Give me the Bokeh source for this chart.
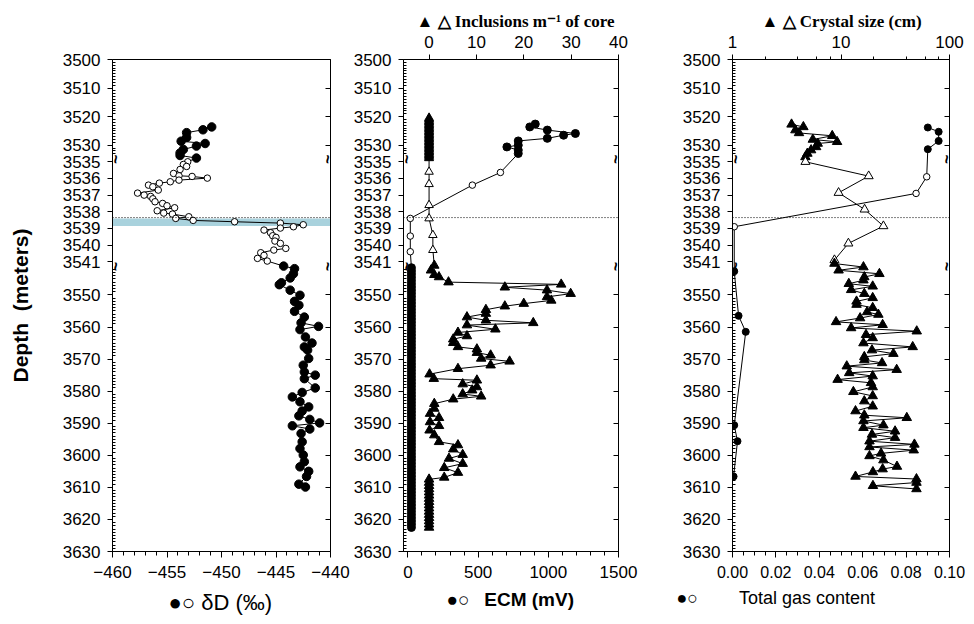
import math
from bokeh.plotting import figure
from bokeh.layouts import row
from bokeh.models import (Range1d, LinearAxis, LogAxis, FixedTicker, LogTicker, LinearScale,
                          Span, BoxAnnotation, PrintfTickFormatter, Title)
from bokeh.core.properties import value
from bokeh.embed import file_html
from bokeh.resources import INLINE

FONT = "Liberation Sans"

# ---------------- depth axis (broken: upper / expanded 3535-3541 m / lower) ----------------
DEPTH_TICKS_UP = [3500, 3510, 3520, 3530]
DEPTH_TICKS_MID = [3535, 3536, 3537, 3538, 3539, 3540, 3541]
DEPTH_TICKS_LOW = [3550, 3560, 3570, 3580, 3590, 3600, 3610, 3620, 3630]

# ---------------- panel 1 : deltaD (permil) ----------------
DD_UP_DEPTH = [3523.6, 3524.6, 3525.6, 3527.3, 3528.6, 3529.4, 3530.3, 3531.5, 3532.7, 3533.6, 3534.5]
DD_UP = [-450.9, -451.7, -453.2, -453.2, -453.7, -451.5, -452.3, -453.5, -453.8, -453.8, -452.3]

DD_MID_DEPTH = [3535.0, 3535.16, 3535.28, 3535.46, 3535.70, 3535.84, 3535.88, 3535.98, 3536.10, 3536.20,
                3536.28, 3536.40, 3536.50, 3536.70, 3536.88, 3537.00, 3537.08, 3537.22, 3537.40, 3537.50,
                3537.64, 3537.76, 3537.94, 3538.08, 3538.14, 3538.30, 3538.40, 3538.52, 3538.60, 3538.68,
                3538.78, 3538.90, 3538.98, 3539.10, 3539.26, 3539.44, 3539.54, 3539.76, 3539.90, 3540.20,
                3540.30, 3540.46, 3540.62, 3540.80, 3540.96]
DD_MID = [-453.1, -453.5, -453.2, -453.8, -454.4, -453.9, -452.7, -451.3, -453.9, -454.7,
          -455.7, -456.7, -456.3, -455.8, -457.7, -457.1, -456.5, -456.3, -456.1, -455.4,
          -455.0, -454.3, -455.9, -455.3, -454.5, -453.0, -454.2, -452.6, -448.8, -444.6,
          -442.5, -443.4, -444.6, -446.1, -445.5, -445.3, -445.0, -445.1, -444.6, -444.1,
          -445.2, -446.4, -446.1, -446.7, -445.8]

DD_LOW_DEPTH = [3541.0, 3541.8, 3543.4, 3544.7, 3546.2, 3546.8, 3548.5, 3550.1, 3552.0, 3553.2,
                3555.1, 3556.9, 3558.7, 3559.8, 3560.8, 3563.1, 3565.0, 3566.2, 3567.2, 3569.8,
                3571.9, 3574.0, 3575.0, 3576.1, 3579.0, 3580.4, 3581.8, 3583.3, 3584.9, 3586.2,
                3587.7, 3588.8, 3589.9, 3590.8, 3591.8, 3593.2, 3595.8, 3597.9, 3599.9, 3602.0,
                3603.6, 3605.0, 3606.6, 3609.0, 3609.9]
DD_LOW = [-444.3, -443.3, -443.4, -443.7, -444.5, -444.7, -443.7, -442.8, -443.3, -442.9,
          -443.3, -442.4, -442.7, -441.1, -442.8, -442.3, -441.7, -442.4, -442.1, -442.0,
          -442.5, -442.4, -441.4, -442.4, -441.4, -442.6, -443.5, -442.8, -442.0, -442.6,
          -442.9, -441.9, -441.0, -443.5, -441.9, -442.7, -442.6, -442.8, -442.5, -442.4,
          -442.8, -442.0, -442.2, -442.9, -442.3]

# ---------------- panel 2 : ECM (mV) circles, inclusions per m of core triangles ----------------
ECM_UP_DEPTH = [3522.6, 3523.6, 3524.7, 3525.9, 3526.5, 3527.6, 3528.5, 3530.0, 3530.6, 3531.7, 3532.9]
ECM_UP = [907, 868, 993, 1193, 1109, 993, 786, 786, 705, 786, 786]
ECM_MID_DEPTH = [3535.64, 3536.4, 3538.4, 3539.46, 3540.4]
ECM_MID = [659, 459, 17, 17, 17]
ECM_LOW_DEPTH = [3541.5, 3542.5, 3543.5, 3544.5, 3545.5, 3546.5, 3547.5, 3548.5, 3549.5, 3550.5,
                 3551.5, 3552.5, 3553.5, 3554.5, 3555.5, 3556.5, 3557.5, 3558.5, 3559.5, 3560.5,
                 3561.5, 3562.5, 3563.5, 3564.5, 3565.5, 3566.5, 3567.5, 3568.5, 3569.5, 3570.5,
                 3571.5, 3572.5, 3573.5, 3574.5, 3575.5, 3576.5, 3577.5, 3578.5, 3579.5, 3580.5,
                 3581.5, 3582.5, 3583.5, 3584.5, 3585.5, 3586.5, 3587.5, 3588.5, 3589.5, 3590.5,
                 3591.5, 3592.5, 3593.5, 3594.5, 3595.5, 3596.5, 3597.5, 3598.5, 3599.5, 3600.5,
                 3601.5, 3602.5, 3603.5, 3604.5, 3605.5, 3606.5, 3607.5, 3608.5, 3609.5, 3610.5,
                 3611.5, 3612.5, 3613.5, 3614.5, 3615.5, 3616.5, 3617.5, 3618.5, 3619.5, 3620.5,
                 3621.5, 3622.5]
ECM_LOW = [25, 25, 25, 25, 25, 25, 25, 25, 25, 25,
           25, 25, 25, 25, 25, 25, 25, 25, 25, 25,
           25, 25, 25, 25, 25, 25, 25, 25, 25, 25,
           25, 25, 25, 25, 25, 25, 25, 25, 25, 25,
           25, 25, 25, 25, 25, 25, 25, 25, 25, 25,
           25, 25, 25, 25, 25, 25, 25, 25, 25, 25,
           25, 25, 25, 25, 25, 25, 25, 25, 25, 25,
           25, 25, 25, 25, 25, 25, 25, 25, 25, 25,
           25, 25]

INC_UP_DEPTH = [3520.5, 3521.0, 3521.5, 3522.0, 3522.5, 3523.0, 3523.5, 3524.0, 3524.5, 3525.0,
                3525.5, 3526.0, 3526.5, 3527.0, 3527.5, 3528.0, 3528.5, 3529.0, 3529.5, 3530.0,
                3530.5, 3531.0, 3531.5, 3532.0, 3532.5, 3533.0, 3533.5, 3534.0, 3534.5]
INC_UP = [0, 0, 0, 0, 0, 0, 0, 0, 0, 0, 0, 0, 0, 0, 0, 0, 0, 0, 0, 0, 0, 0, 0, 0, 0, 0, 0, 0, 0]
INC_MID_DEPTH = [3535.6, 3536.34, 3537.6, 3538.4, 3539.4, 3540.3]
INC_MID = [0, 0, 0, 0, 0.8, 0.8]
INC_LOW_DEPTH = [3540.8, 3542.3, 3543.7, 3544.4, 3546.0, 3546.7, 3547.6, 3548.5, 3549.6, 3550.6,
                 3551.7, 3552.7, 3553.5, 3554.6, 3555.8, 3556.9, 3557.9, 3558.7, 3559.4, 3560.7,
                 3561.7, 3562.8, 3563.8, 3564.9, 3566.2, 3566.9, 3568.0, 3568.8, 3569.8, 3570.7,
                 3571.9, 3573.0, 3574.7, 3576.1, 3576.6, 3577.8, 3578.7, 3579.7, 3580.9, 3581.6,
                 3582.5, 3583.9, 3585.4, 3587.0, 3588.3, 3589.6, 3590.8, 3592.2, 3593.7, 3595.8,
                 3596.8, 3598.1, 3599.8, 3601.0, 3602.6, 3603.9, 3605.4, 3606.9,
                 3607.5, 3608.5, 3609.5, 3610.5, 3611.5, 3612.5, 3613.5, 3614.5, 3615.5, 3616.5,
                 3617.5, 3618.5, 3619.5, 3620.5, 3621.5, 3622.5]
INC_LOW = [1.1, 0.4, 1.1, 2.1, 4.1, 27.9, 16.0, 24.9, 29.9, 24.9,
           25.8, 20.0, 16.0, 12.0, 12.0, 8.0, 12.0, 22.0, 8.0, 14.0,
           6.1, 8.0, 5.1, 5.1, 6.1, 10.1, 10.1, 13.0, 11.0, 17.0,
           13.0, 6.1, 0.1, 1.0, 10.1, 7.1, 10.1, 9.1, 7.1, 11.0,
           5.1, 1.1, 1.1, 0.2, 2.1, 0.2, 2.1, 0.1, 1.1, 2.1,
           6.1, 5.1, 7.1, 4.2, 7.1, 3.2, 6.1, 3.2,
           0, 0, 0, 0, 0, 0, 0, 0, 0, 0,
           0, 0, 0, 0, 0, 0]

# ---------------- panel 3 : crystal size (cm) triangles, total gas content circles ----------------
CS_UP_DEPTH = [3522.7, 3523.6, 3524.7, 3525.7, 3526.7, 3528.0, 3528.8, 3529.4, 3530.6, 3531.7, 3532.9, 3534.1]
CS_UP = [3.5, 4.5, 3.8, 4.1, 8.3, 5.5, 9.2, 6.1, 5.9, 5.3, 4.9, 4.7]
CS_MID_DEPTH = [3535.0, 3535.86, 3536.86, 3537.86, 3538.86, 3539.9, 3540.9]
CS_MID = [4.7, 18.0, 9.5, 16.5, 24.6, 11.7, 8.7]
CS_LOW_DEPTH = [3540.2, 3541.3, 3542.3, 3543.4, 3544.4, 3545.4, 3546.5, 3547.3, 3548.4, 3549.6,
                3550.9, 3552.0, 3553.0, 3554.0, 3555.3, 3556.1, 3557.2, 3558.4, 3559.3, 3560.3,
                3561.3, 3562.4, 3563.4, 3565.0, 3566.2, 3567.2, 3568.3, 3569.3, 3570.3, 3571.2,
                3572.2, 3573.3, 3574.3, 3575.3, 3576.4, 3577.4, 3578.7, 3580.2, 3581.5, 3583.1,
                3584.7, 3586.2, 3587.5, 3588.3, 3589.3, 3590.6, 3591.4, 3592.5, 3593.5, 3594.5,
                3595.6, 3596.6, 3597.4, 3598.4, 3599.4, 3600.2, 3601.5, 3603.5, 3604.3, 3605.2,
                3606.6, 3607.4, 3608.5, 3609.5, 3610.5]
CS_LOW = [8.7, 16.1, 9.5, 22.6, 16.4, 16.1, 11.8, 19.6, 12.4, 16.4,
          19.6, 13.9, 13.9, 19.6, 17.4, 22.1, 15.0, 9.0, 24.2, 12.4,
          49.9, 17.0, 19.6, 16.1, 45.8, 19.3, 30.4, 16.4, 16.4, 23.9,
          11.3, 32.6, 11.9, 19.6, 9.3, 18.9, 19.6, 13.0, 19.6, 16.4,
          19.6, 13.6, 16.4, 40.4, 16.1, 24.6, 16.1, 31.5, 19.3, 31.5,
          18.3, 47.5, 18.3, 46.8, 23.4, 18.3, 24.6, 32.8, 24.2, 19.7,
          13.6, 49.6, 49.6, 19.7, 49.6]

GAS_UP_DEPTH = [3523.8, 3525.3, 3528.5, 3531.4]
GAS_UP = [0.090, 0.095, 0.095, 0.090]
GAS_MID_DEPTH = [3535.9, 3536.9, 3538.9]
GAS_MID = [0.0895, 0.0846, 0.0008]
GAS_LOW_DEPTH = [3542.6, 3556.5, 3561.5, 3590.6, 3595.6, 3606.6]
GAS_LOW = [0.0008, 0.0028, 0.0061, 0.0008, 0.0023, 0.0005]

# ---------------- tick values ----------------
DD_TICKS = [-460, -455, -450, -445, -440]
DD_MINOR = [-459, -458, -457, -456, -454, -453, -452, -451, -449, -448, -447, -446,
            -444, -443, -442, -441]
ECM_TICKS = [0, 500, 1000, 1500]
ECM_MINOR = [100, 200, 300, 400, 600, 700, 800, 900, 1100, 1200, 1300, 1400]
INC_TICKS = [0, 10, 20, 30, 40]
GAS_TICKS = [0.00, 0.02, 0.04, 0.06, 0.08, 0.10]
GAS_MINOR = [0.005, 0.01, 0.015, 0.025, 0.03, 0.035, 0.045, 0.05, 0.055, 0.065, 0.07, 0.075,
             0.085, 0.09, 0.095]


# ---------------- broken depth scale ----------------
def y_up(d):
    return (d - 3500.0) * 2.86


def y_mid(d):
    return 102.4 + (d - 3535.0) * 16.67


def y_low(d):
    return 235.7 + (d - 3550.0) * 3.21


Y_BOTTOM = y_low(3630)
BRK1 = (y_up(3534.0) + y_mid(3535.0)) / 2
BRK2 = (y_mid(3541.2) + y_low(3541.6)) / 2
MARK_LINE = y_mid(3538.35)
FIG_H = 624


def ys(up, mid, low):
    return [y_up(d) for d in up], [y_mid(d) for d in mid], [y_low(d) for d in low]


def base_fig(width, left, right, x_range, x_axis_type="linear"):
    p = figure(width=width, height=FIG_H, x_range=x_range, y_range=Range1d(Y_BOTTOM, 0),
               x_axis_type=x_axis_type, x_axis_location=None, y_axis_location=None,
               title_location=None, output_backend="svg", toolbar_location=None,
               min_border_left=left, min_border_right=right, min_border_top=59,
               min_border_bottom=FIG_H - 59 - 492)
    p.grid.visible = False
    p.outline_line_color = "black"
    p.outline_line_width = 1
    p.background_fill_color = "white"
    p.border_fill_color = "white"
    return p


def style_axis(ax, size="17px"):
    ax.axis_line_color = "black"
    ax.major_tick_line_color = "black"
    ax.minor_tick_line_color = "black"
    ax.major_label_text_font = FONT
    ax.major_label_text_font_size = size
    ax.major_label_text_color = "black"


def bottom_axis(ax, size="17px"):
    style_axis(ax, size)
    ax.major_tick_out = 6
    ax.major_tick_in = 0
    ax.minor_tick_out = 4
    ax.minor_tick_in = 0
    ax.major_label_standoff = 8


def top_axis(ax):
    style_axis(ax)
    ax.major_tick_out = 5
    ax.major_tick_in = 0
    ax.minor_tick_out = 3
    ax.minor_tick_in = 0
    ax.major_label_standoff = 7


def depth_axes(p, x_left, x_right, axis_label=None):
    major = [y_up(d) for d in DEPTH_TICKS_UP] + [y_mid(d) for d in DEPTH_TICKS_MID] + \
            [y_low(d) for d in DEPTH_TICKS_LOW]
    minor = [y_up(d) for d in range(3501, 3534) if d % 10] + \
            [y_low(d) for d in range(3542, 3630) if d % 10]
    over = {}
    for d in DEPTH_TICKS_UP:
        over[y_up(d)] = str(d)
    for d in DEPTH_TICKS_MID:
        over[y_mid(d)] = str(d)
    for d in DEPTH_TICKS_LOW:
        over[y_low(d)] = str(d)
    ax = LinearAxis(ticker=FixedTicker(ticks=major, minor_ticks=minor), major_label_overrides=over)
    style_axis(ax, "17px")
    ax.major_tick_out = 5
    ax.major_tick_in = 0
    ax.minor_tick_in = 3
    ax.minor_tick_out = 0
    ax.major_label_standoff = 7
    if axis_label:
        ax.axis_label = axis_label
        ax.axis_label_text_font = FONT
        ax.axis_label_text_font_style = "bold"
        ax.axis_label_text_font_size = "21px"
        ax.axis_label_text_color = "black"
        ax.axis_label_standoff = 28
    p.add_layout(ax, "left")

    major_ac = [y_up(d) for d in DEPTH_TICKS_UP] + [y_low(d) for d in DEPTH_TICKS_LOW]
    rax = LinearAxis(ticker=FixedTicker(ticks=major_ac))
    style_axis(rax, "1px")
    rax.major_label_text_color = None
    rax.major_tick_in = 5
    rax.major_tick_out = 0
    rax.major_label_standoff = 0
    p.add_layout(rax, "right")

    # axis-break marks, drawn just inside the frame
    p.text(x=[x_left, x_left, x_right, x_right], y=[BRK1, BRK2, BRK1, BRK2],
           text=["~", "~", "~", "~"], angle=math.pi / 2, x_offset=[3, 3, -3, -3],
           text_align="center", text_baseline="middle", text_font=value(FONT),
           text_font_size="16px", text_font_style="bold", text_color="black")


def hline(p):
    p.add_layout(Span(location=MARK_LINE, dimension="width", line_color="black",
                      line_width=1, line_dash="1 2"))


def caption(p, text, place, offset, size, font=FONT, style="normal", standoff=2):
    p.add_layout(Title(text=text, align="left", offset=offset, text_font=font,
                       text_font_style=style, text_font_size=size, text_color="black",
                       standoff=standoff), place)


# ================= panel 1 =================
p1 = base_fig(350, 112, 20, Range1d(-460, -440))
p1.add_layout(BoxAnnotation(top=y_mid(3538.4), bottom=y_mid(3538.85), fill_color="#a9d2dd",
                            fill_alpha=1.0, line_color=None, level="underlay"))
hline(p1)
a, b, c = ys(DD_UP_DEPTH, DD_MID_DEPTH, DD_LOW_DEPTH)
p1.line(DD_UP + DD_MID + DD_LOW, a + b + c, line_color="black", line_width=1)
p1.scatter(DD_UP, a, marker="circle", size=8.5, fill_color="black", line_color="black")
p1.scatter(DD_MID, b, marker="circle", size=6.5, fill_color="white", line_color="black", line_width=1)
p1.scatter(DD_LOW, c, marker="circle", size=8.5, fill_color="black", line_color="black")
bx1 = LinearAxis(ticker=FixedTicker(ticks=DD_TICKS, minor_ticks=DD_MINOR))
bottom_axis(bx1)
p1.add_layout(bx1, "below")
depth_axes(p1, -460, -440, axis_label="Depth\u00a0 (meters)")
caption(p1, "●○ δD (‰)", "below", 56, "22px", standoff=14)

# ================= panel 2 =================
p2 = base_fig(292, 52, 24, Range1d(-31.5, 1500))
p2.extra_x_ranges = {"inc": Range1d(-5.4, 40)}
p2.extra_x_scales = {"inc": LinearScale()}
hline(p2)
a, b, c = ys(ECM_UP_DEPTH, ECM_MID_DEPTH, ECM_LOW_DEPTH)
p2.line(ECM_UP + ECM_MID + ECM_LOW, a + b + c, line_color="black", line_width=1)
p2.scatter(ECM_UP, a, marker="circle", size=8, fill_color="black", line_color="black")
p2.scatter(ECM_MID, b, marker="circle", size=6.5, fill_color="white", line_color="black")
p2.scatter(ECM_LOW, c, marker="circle", size=8, fill_color="black", line_color="black")
a, b, c = ys(INC_UP_DEPTH, INC_MID_DEPTH, INC_LOW_DEPTH)
p2.line(INC_UP + INC_MID + INC_LOW, a + b + c, line_color="black", line_width=1, x_range_name="inc")
p2.scatter(INC_UP, a, marker="triangle", size=9, fill_color="black", line_color="black", x_range_name="inc")
p2.scatter(INC_MID, b, marker="triangle", size=8.5, fill_color="white", line_color="black", x_range_name="inc")
p2.scatter(INC_LOW, c, marker="triangle", size=9.5, fill_color="black", line_color="black", x_range_name="inc")
bx2 = LinearAxis(ticker=FixedTicker(ticks=ECM_TICKS, minor_ticks=ECM_MINOR))
bottom_axis(bx2)
p2.add_layout(bx2, "below")
tx2 = LinearAxis(x_range_name="inc", ticker=FixedTicker(ticks=INC_TICKS))
top_axis(tx2)
p2.add_layout(tx2, "above")
depth_axes(p2, -31.5, 1500)
caption(p2, "▲ △ Inclusions m⁻¹ of core", "above", 13, "17px", font="Liberation Serif",
        style="bold", standoff=4)
caption(p2, "●○\u2002 ECM (mV)", "below", 43, "19px", style="bold", standoff=13)

# ================= panel 3 =================
p3 = base_fig(327, 90, 20, Range1d(1, 100), x_axis_type="log")
p3.extra_x_ranges = {"gas": Range1d(0, 0.1)}
p3.extra_x_scales = {"gas": LinearScale()}
hline(p3)
a, b, c = ys(CS_UP_DEPTH, CS_MID_DEPTH, CS_LOW_DEPTH)
p3.line(CS_UP + CS_MID + CS_LOW, a + b + c, line_color="black", line_width=1)
p3.scatter(CS_UP, a, marker="triangle", size=9.5, fill_color="black", line_color="black")
p3.scatter(CS_MID, b, marker="triangle", size=9, fill_color="white", line_color="black")
p3.scatter(CS_LOW, c, marker="triangle", size=9.5, fill_color="black", line_color="black")
a, b, c = ys(GAS_UP_DEPTH, GAS_MID_DEPTH, GAS_LOW_DEPTH)
p3.line(GAS_UP + GAS_MID + GAS_LOW, a + b + c, line_color="black", line_width=1, x_range_name="gas")
p3.scatter(GAS_UP, a, marker="circle", size=7, fill_color="black", line_color="black", x_range_name="gas")
p3.scatter(GAS_MID, b, marker="circle", size=6.5, fill_color="white", line_color="black", x_range_name="gas")
p3.scatter(GAS_LOW, c, marker="circle", size=7, fill_color="black", line_color="black", x_range_name="gas")
bx3 = LinearAxis(x_range_name="gas", ticker=FixedTicker(ticks=GAS_TICKS, minor_ticks=GAS_MINOR),
                 formatter=PrintfTickFormatter(format="%.2f"))
bottom_axis(bx3, "16px")
p3.add_layout(bx3, "below")
tx3 = LogAxis(ticker=LogTicker(), formatter=PrintfTickFormatter(format="%d"))
top_axis(tx3)
p3.add_layout(tx3, "above")
depth_axes(p3, 1, 100)
caption(p3, "▲ △ Crystal size (cm)", "above", 29, "17px", font="Liberation Serif",
        style="bold", standoff=4)
caption(p3, "●○\u2003\u2003 Total gas content", "below", -56, "18px", standoff=10)

layout = row(p1, p2, p3)
open("out.html", "w").write(file_html(layout, INLINE))
